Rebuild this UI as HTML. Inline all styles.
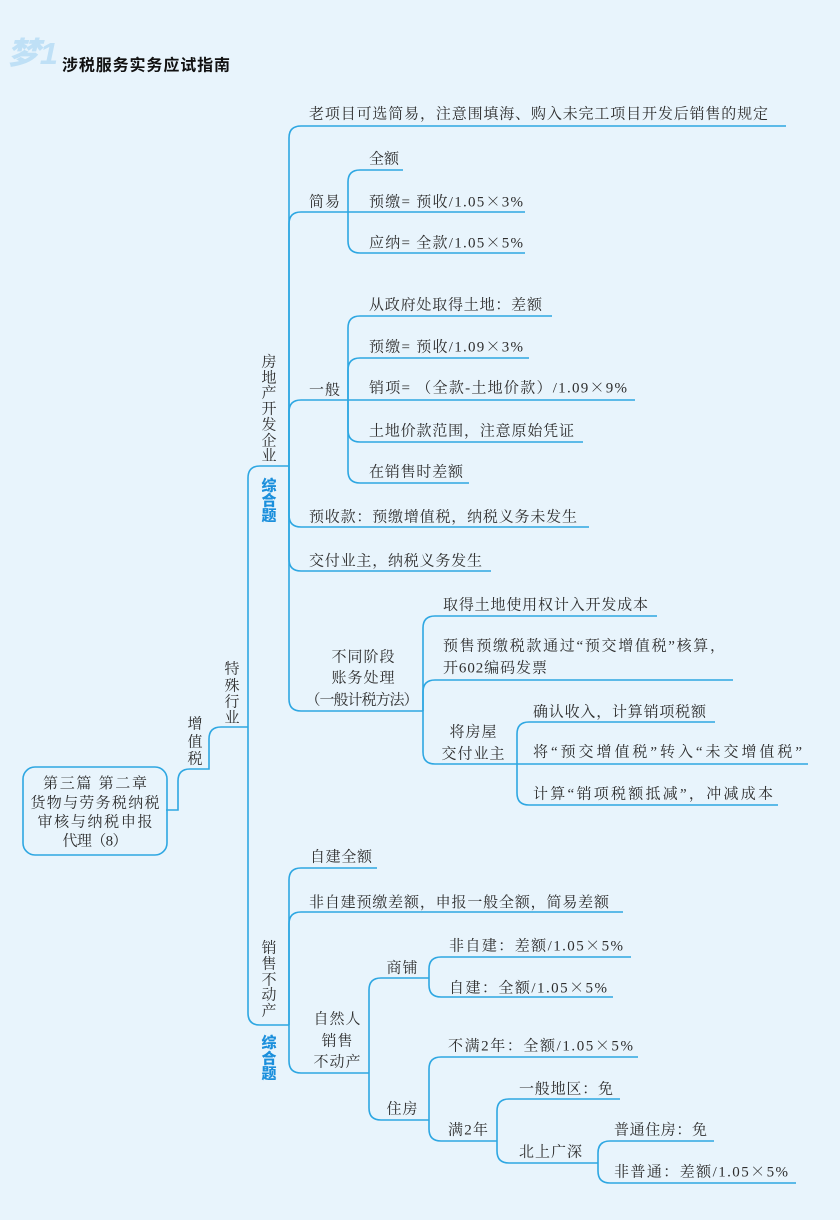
<!DOCTYPE html>
<html>
<head>
<meta charset="utf-8">
<style>
  html, body { margin:0; padding:0; }
  body { width:840px; height:1220px; background:#e8f4fc; overflow:hidden; }
  svg { display:block; }
  .t { font-family:"Liberation Serif","Noto Serif CJK SC","Noto Sans CJK SC",serif; font-size:15px; fill:#2e2e2e; }
  .x { font-family:"Noto Serif CJK SC","Noto Sans CJK SC",serif; }
  .m { text-anchor:middle; }
  .z { font-family:"Liberation Sans","Noto Sans CJK SC",sans-serif; font-size:15px; font-weight:900; fill:#1b8fdc; text-anchor:middle; }
  .ln { fill:none; stroke:#2ea7e2; stroke-width:1.6; }
</style>
</head>
<body>
<svg width="840" height="1220" viewBox="0 0 840 1220" xmlns="http://www.w3.org/2000/svg">
  <rect x="0" y="0" width="840" height="1220" fill="#e8f4fc"/>

  <!-- header -->
  <text x="7" y="64" font-family="'Liberation Sans','Noto Sans CJK SC',sans-serif" font-size="31" font-weight="900" font-style="italic" fill="#bfe0f6" textLength="51" lengthAdjust="spacingAndGlyphs">梦1</text>
  <text x="62" y="70.5" font-family="'Liberation Sans','Noto Sans CJK SC',sans-serif" font-size="16" font-weight="700" fill="#111" textLength="168" lengthAdjust="spacing">涉税服务实务应试指南</text>

  <!-- connectors -->
  <g class="ln">
    <rect x="23" y="767" width="144" height="88" rx="12" ry="12"/>
    <path d="M166 810 H178 V781 Q178 769 190 769 H209 V739 Q209 727 221 727 H248"/>
    <path d="M248 727 V478 Q248 466 260 466 H289"/>
    <path d="M248 727 V1013 Q248 1025 260 1025 H289"/>

    <path d="M289 466 V138 Q289 126 301 126 H786"/>
    <path d="M289 466 V224 Q289 212 301 212 H348"/>
    <path d="M289 466 V412 Q289 400 301 400 H348"/>
    <path d="M289 466 V515 Q289 527 301 527 H589"/>
    <path d="M289 466 V559 Q289 571 301 571 H491"/>
    <path d="M289 466 V699 Q289 711 301 711 H423"/>

    <path d="M348 212 V182 Q348 170 360 170 H403"/>
    <path d="M348 212 H525"/>
    <path d="M348 212 V241 Q348 253 360 253 H525"/>

    <path d="M348 400 V328 Q348 316 360 316 H552"/>
    <path d="M348 400 V370 Q348 358 360 358 H529"/>
    <path d="M348 400 H635"/>
    <path d="M348 400 V430 Q348 442 360 442 H583"/>
    <path d="M348 400 V471 Q348 483 360 483 H469"/>

    <path d="M423 711 V628 Q423 616 435 616 H657"/>
    <path d="M423 711 V692 Q423 680 435 680 H733"/>
    <path d="M423 711 V752 Q423 764 435 764 H517"/>

    <path d="M517 764 V734 Q517 722 529 722 H715"/>
    <path d="M517 764 H808"/>
    <path d="M517 764 V793 Q517 805 529 805 H778"/>

    <path d="M289 1025 V880 Q289 868 301 868 H377"/>
    <path d="M289 1025 V924 Q289 912 301 912 H623"/>
    <path d="M289 1025 V1061 Q289 1073 301 1073 H369"/>

    <path d="M369 1073 V990 Q369 978 381 978 H429"/>
    <path d="M369 1073 V1108 Q369 1120 381 1120 H429"/>

    <path d="M429 978 V969 Q429 957 441 957 H631"/>
    <path d="M429 978 V985 Q429 997 441 997 H613"/>

    <path d="M429 1120 V1069 Q429 1057 441 1057 H638"/>
    <path d="M429 1120 V1129 Q429 1141 441 1141 H497"/>

    <path d="M497 1141 V1111 Q497 1099 509 1099 H620"/>
    <path d="M497 1141 V1151 Q497 1163 509 1163 H598"/>

    <path d="M598 1163 V1153 Q598 1141 610 1141 H714"/>
    <path d="M598 1163 V1171 Q598 1183 610 1183 H796"/>
  </g>

  <!-- root box text -->
  <text class="t m" x="95" y="788" textLength="104" lengthAdjust="spacing">第三篇  第二章</text>
  <text class="t m" x="95" y="807.5" textLength="129" lengthAdjust="spacing">货物与劳务税纳税</text>
  <text class="t m" x="95" y="826.5" textLength="115" lengthAdjust="spacing">审核与纳税申报</text>
  <text class="t m" x="95" y="845.5" textLength="65" lengthAdjust="spacing">代理（8）</text>

  <!-- 增值税 -->
  <text class="t m" x="195" y="728.5">增</text>
  <text class="t m" x="195" y="746.5">值</text>
  <text class="t m" x="195" y="763.5">税</text>

  <!-- 特殊行业 -->
  <text class="t m" x="232" y="673.5">特</text>
  <text class="t m" x="232" y="690.5">殊</text>
  <text class="t m" x="232" y="706.5">行</text>
  <text class="t m" x="232" y="722.5">业</text>

  <!-- 房地产开发企业 -->
  <text class="t m" x="269" y="366.5">房</text>
  <text class="t m" x="269" y="382.5">地</text>
  <text class="t m" x="269" y="397.5">产</text>
  <text class="t m" x="269" y="413.5">开</text>
  <text class="t m" x="269" y="429.5">发</text>
  <text class="t m" x="269" y="445.5">企</text>
  <text class="t m" x="269" y="460.5">业</text>

  <text class="z" x="269" y="490.5">综</text>
  <text class="z" x="269" y="505.5">合</text>
  <text class="z" x="269" y="520.5">题</text>

  <!-- 销售不动产 -->
  <text class="t m" x="269" y="952.5">销</text>
  <text class="t m" x="269" y="968.5">售</text>
  <text class="t m" x="269" y="984.5">不</text>
  <text class="t m" x="269" y="999.5">动</text>
  <text class="t m" x="269" y="1015.5">产</text>

  <text class="z" x="269" y="1047.5">综</text>
  <text class="z" x="269" y="1063.5">合</text>
  <text class="z" x="269" y="1078.5">题</text>

  <!-- 房地产 branches -->
  <text class="t" x="309" y="118.5" textLength="459" lengthAdjust="spacing">老项目可选简易，注意围填海、购入未完工项目开发后销售的规定</text>
  <text class="t" x="309" y="206.5" textLength="31" lengthAdjust="spacing">简易</text>
  <text class="t" x="369" y="163.5" textLength="30" lengthAdjust="spacing">全额</text>
  <text class="t" x="369" y="206.5" textLength="154" lengthAdjust="spacing">预缴= 预收/1.05<tspan class="x">×</tspan>3%</text>
  <text class="t" x="369" y="247.5" textLength="154" lengthAdjust="spacing">应纳= 全款/1.05<tspan class="x">×</tspan>5%</text>

  <text class="t" x="309" y="394.5" textLength="31" lengthAdjust="spacing">一般</text>
  <text class="t" x="369" y="309.5" textLength="173" lengthAdjust="spacing">从政府处取得土地：差额</text>
  <text class="t" x="369" y="351.5" textLength="154" lengthAdjust="spacing">预缴= 预收/1.09<tspan class="x">×</tspan>3%</text>
  <text class="t" x="369" y="392.5" textLength="258" lengthAdjust="spacing">销项= （全款-土地价款）/1.09<tspan class="x">×</tspan>9%</text>
  <text class="t" x="369" y="435.5" textLength="205" lengthAdjust="spacing">土地价款范围，注意原始凭证</text>
  <text class="t" x="369" y="476.5" textLength="94" lengthAdjust="spacing">在销售时差额</text>

  <text class="t" x="309" y="521.5" textLength="268" lengthAdjust="spacing">预收款：预缴增值税，纳税义务未发生</text>
  <text class="t" x="309" y="565.5" textLength="173" lengthAdjust="spacing">交付业主，纳税义务发生</text>

  <text class="t m" x="363" y="661.5" textLength="63" lengthAdjust="spacing">不同阶段</text>
  <text class="t m" x="363" y="682.5" textLength="63" lengthAdjust="spacing">账务处理</text>
  <text class="t m" x="362" y="704.5" textLength="113" lengthAdjust="spacing">（一般计税方法）</text>

  <text class="t" x="443" y="609.5" textLength="205" lengthAdjust="spacing">取得土地使用权计入开发成本</text>
  <text class="t" x="443" y="650.5" textLength="282" lengthAdjust="spacing">预售预缴税款通过“预交增值税”核算，</text>
  <text class="t" x="443" y="672.5" textLength="104" lengthAdjust="spacing">开602编码发票</text>

  <text class="t m" x="473" y="736.5" textLength="47" lengthAdjust="spacing">将房屋</text>
  <text class="t m" x="473" y="758.5" textLength="63" lengthAdjust="spacing">交付业主</text>

  <text class="t" x="533" y="716.5" textLength="173" lengthAdjust="spacing">确认收入，计算销项税额</text>
  <text class="t" x="533" y="756.5" textLength="269" lengthAdjust="spacing">将“预交增值税”转入“未交增值税”</text>
  <text class="t" x="533" y="798.5" textLength="240" lengthAdjust="spacing">计算“销项税额抵减”，冲减成本</text>

  <!-- 销售不动产 branches -->
  <text class="t" x="310" y="861.5" textLength="62" lengthAdjust="spacing">自建全额</text>
  <text class="t" x="309" y="907" textLength="300" lengthAdjust="spacing">非自建预缴差额，申报一般全额，简易差额</text>

  <text class="t m" x="337" y="1023.5" textLength="47" lengthAdjust="spacing">自然人</text>
  <text class="t m" x="337" y="1045.5" textLength="31" lengthAdjust="spacing">销售</text>
  <text class="t m" x="337" y="1066.5" textLength="47" lengthAdjust="spacing">不动产</text>

  <text class="t m" x="402" y="972.5" textLength="31" lengthAdjust="spacing">商铺</text>
  <text class="t" x="449" y="950.5" textLength="174" lengthAdjust="spacing">非自建：差额/1.05<tspan class="x">×</tspan>5%</text>
  <text class="t" x="449" y="992.5" textLength="158" lengthAdjust="spacing">自建：全额/1.05<tspan class="x">×</tspan>5%</text>

  <text class="t m" x="402" y="1113.5" textLength="31" lengthAdjust="spacing">住房</text>
  <text class="t" x="448" y="1050.5" textLength="185" lengthAdjust="spacing">不满2年：全额/1.05<tspan class="x">×</tspan>5%</text>
  <text class="t" x="448" y="1134.5" textLength="40" lengthAdjust="spacing">满2年</text>

  <text class="t" x="519" y="1093.5" textLength="94" lengthAdjust="spacing">一般地区：免</text>
  <text class="t" x="519" y="1156.5" textLength="63" lengthAdjust="spacing">北上广深</text>

  <text class="t" x="614" y="1134.5" textLength="93" lengthAdjust="spacing">普通住房：免</text>
  <text class="t" x="614" y="1176.5" textLength="174" lengthAdjust="spacing">非普通：差额/1.05<tspan class="x">×</tspan>5%</text>
</svg>
</body>
</html>
